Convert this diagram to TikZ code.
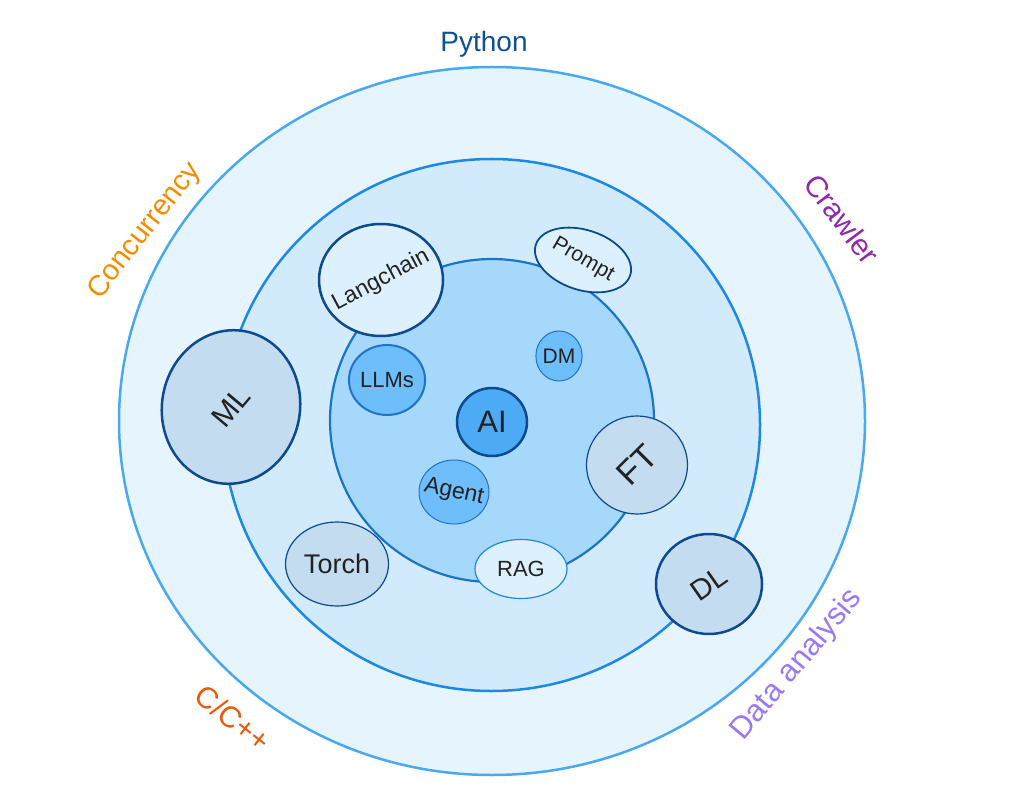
\documentclass[tikz,border=0pt]{standalone}
\usepackage{fontspec}
\setmainfont{Liberation Sans}
\usetikzlibrary{shapes.geometric}
\definecolor{outerfill}{HTML}{E6F4FE}
\definecolor{outerline}{HTML}{4AA8F0}
\definecolor{midfill}{HTML}{D1EBFD}
\definecolor{midline}{HTML}{1E88E5}
\definecolor{innerfill}{HTML}{A6D8FC}
\definecolor{innerline}{HTML}{1A74C8}
\definecolor{aifill}{HTML}{4DAAF5}
\definecolor{darkline}{HTML}{0D4A8F}
\definecolor{bluefill}{HTML}{6DBEFB}
\definecolor{blueline}{HTML}{2272C8}
\definecolor{greyfill}{HTML}{C3DCF0}
\definecolor{palefill}{HTML}{DDF0FE}
\definecolor{txt}{HTML}{222222}
\definecolor{pycol}{HTML}{0F4F96}
\definecolor{conccol}{HTML}{F28C00}
\definecolor{crawlcol}{HTML}{8E2AAE}
\definecolor{ccol}{HTML}{E85A0C}
\definecolor{datacol}{HTML}{9A78F6}
\newcommand{\fs}[1]{\fontsize{#1}{#1}\selectfont}
\begin{document}
\begin{tikzpicture}[x=1pt,y=-1pt,
  bub/.style={ellipse, inner sep=0pt, text=txt, line width=#1},
  bub/.default=1.2pt,
  rtext/.style 2 args={label={[rotate=#1, inner sep=0pt, text=txt]center:{#2}}},
  lab/.style={inner sep=0pt}]
\useasboundingbox (0,0) rectangle (1019,791);
% rings
\draw[fill=outerfill, draw=outerline, line width=2.5pt] (492,421) ellipse [x radius=373, y radius=354];
\draw[fill=midfill, draw=midline, line width=2.5pt] (491.5,425) ellipse [x radius=268.5, y radius=266];
\draw[fill=innerfill, draw=innerline, line width=2.2pt] (492,420.5) ellipse [x radius=162, y radius=161.5];
% nodes
\node[bub=2.5pt, fill=aifill, draw=darkline, minimum width=70, minimum height=68] (ai) at (492,422) {\fs{31}AI};
\node[bub=2pt, fill=bluefill, draw=blueline, minimum width=70, minimum height=70] (llms) at (387,380) {\fs{22}LLMs};
\node[bub=1pt, fill=bluefill, draw=blueline, minimum width=46, minimum height=50] (dm) at (559,356) {\fs{21}DM};
\node[bub=1pt, fill=bluefill, draw=blueline, minimum width=70, minimum height=64, rtext={-12}{\fs{23}Agent}] (agent) at (454,492) {};
\node[bub=1.2pt, fill=greyfill, draw=darkline, minimum width=101, minimum height=98] (ft) at (637,465) {\rotatebox{45}{\fs{34}FT}};
\node[bub=1.2pt, fill=palefill, draw=midline, minimum width=92, minimum height=59] (rag) at (521,569) {\fs{22}RAG};
\node[bub=1.2pt, fill=greyfill, draw=darkline, minimum width=103, minimum height=84] (torch) at (337,564) {\fs{27}Torch};
\node[bub=2.5pt, fill=greyfill, draw=darkline, minimum width=138, minimum height=154, rotate=-10] (ml) at (231,407) {\rotatebox{60}{\fs{30}ML}};
\node[bub=2.5pt, fill=palefill, draw=darkline, minimum width=124, minimum height=112, rtext={28}{\fs{23}Langchain}] (lang) at (381,280) {};
\node[bub=1.8pt, fill=palefill, draw=darkline, minimum width=92, minimum height=60, rotate=-18] (prompt) at (583,260) {\rotatebox{-12}{\fs{21}Prompt}};
\node[bub=2.5pt, fill=greyfill, draw=darkline, minimum width=106, minimum height=100] (dl) at (709,584) {\rotatebox{35}{\fs{29}DL}};
% outer labels
\node[lab, text=pycol] (py) at (484,44) {\fs{28}Python};
\node[lab, text=conccol, rotate=52] (conc) at (145,231) {\fs{29}Concurrency};
\node[lab, text=crawlcol, rotate=-53] (crawl) at (842,219) {\fs{30}Crawler};
\node[lab, text=ccol, rotate=-38] (cc) at (233,718) {\fs{30}C/C++};
\node[lab, text=datacol, rotate=50] (data) at (797,665) {\fs{31}Data analysis};
\end{tikzpicture}
\end{document}
